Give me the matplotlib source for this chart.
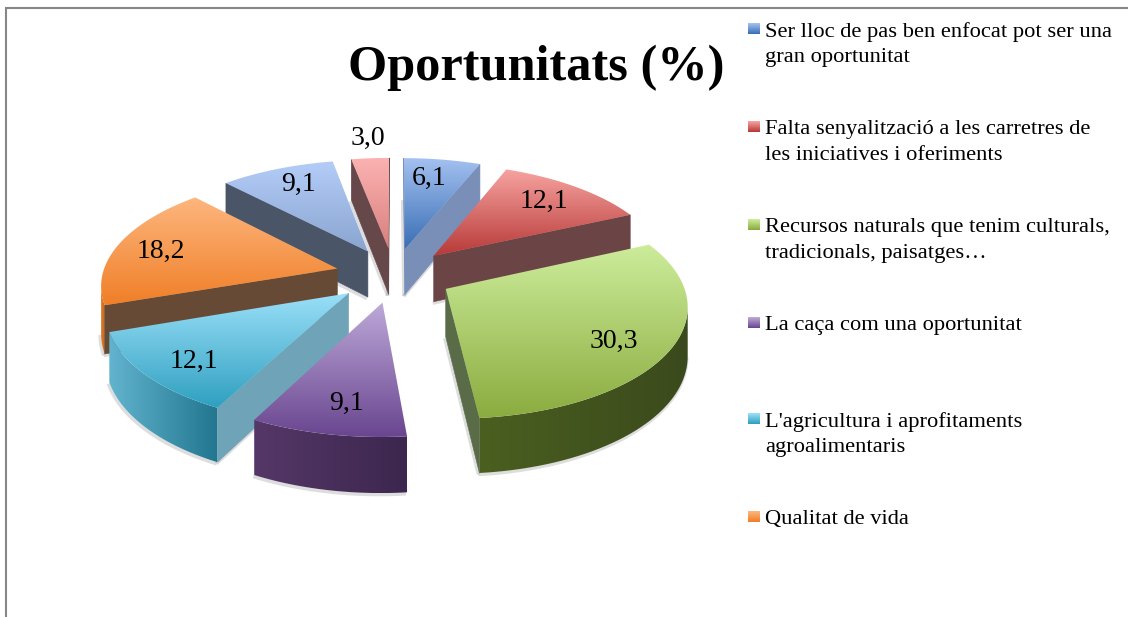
# Oportunitats (%) - pastis 3D separat
import numpy as np
import matplotlib
matplotlib.use("Agg")
import matplotlib.pyplot as plt
from matplotlib.colors import to_rgb
from matplotlib.patches import Polygon

values = [6.1, 12.1, 30.3, 9.1, 12.1, 18.2, 9.1, 3.0]
legend_labels = [
    "Ser lloc de pas ben enfocat pot ser una\ngran oportunitat",
    "Falta senyalització a les carretres de\nles iniciatives i oferiments",
    "Recursos naturals que tenim culturals,\ntradicionals, paisatges…",
    "La caça com una oportunitat",
    "L'agricultura i aprofitaments\nagroalimentaris",
    "Qualitat de vida",
]
legend_y = [42, 140, 238, 323, 432, 517]

# colors: top light, top dark, rim left, rim right, cut face
top_light = ["#a3c0f0", "#f6a3a0", "#cdec9b", "#bda9d8", "#9adff8", "#fdb67e", "#b3cdf8", "#fbb2b1"]
top_dark = ["#3a6fb5", "#b83a38", "#8bac3f", "#6a4690", "#2fa0c0", "#f07f28", "#8aa5d0", "#d97f7d"]
rim_left = ["#5f7ea8", "#6b4545", "#4a5f20", "#553768", "#62b4ce", "#e07a28", "#4a5568", "#66484a"]
rim_right = ["#3f5f88", "#6b4545", "#3b4a1c", "#3c274e", "#227690", "#c06a20", "#4a5568", "#66484a"]
cut_color = ["#7a8fb8", "#6b4545", "#5a6b48", "#553768", "#6fa3b8", "#664a35", "#4a5568", "#66484a"]

label_xy = [(429, 178), (544, 201), (614, 341), (347, 403), (194, 361), (161, 251), (299, 184), (368, 138)]
draw_order = [7, 0, 6, 1, 5, 2, 4, 3]

# projection du pastis
cx, cy = 394, 275
R, V, k = 235, 109, 0.13
explode = 0.25
depth = 47


def project(X, Y):
    f = 1 + k * Y
    return cx + R * X / f, cy - V * Y / f, depth / f


def mix(c1, c2, t):
    a, b = np.array(to_rgb(c1)), np.array(to_rgb(c2))
    return tuple(a + (b - a) * t)


fig = plt.figure(figsize=(11.28, 6.17), dpi=100)
ax = fig.add_axes([0, 0, 1, 1])
ax.set_xlim(0, 1128)
ax.set_ylim(617, 0)
ax.axis("off")

serif = "Liberation Serif"


def gradient_poly(pts, c1, c2, z, horizontal=False):
    pts = np.array(pts)
    x0, x1 = pts[:, 0].min(), pts[:, 0].max()
    y0, y1 = pts[:, 1].min(), pts[:, 1].max()
    t = np.linspace(0, 1, 64)
    if horizontal:
        img = np.array([[mix(c1, c2, v) for v in t]])
    else:
        img = np.array([[mix(c1, c2, v)] for v in t])
    im = ax.imshow(img, extent=(x0, x1, y1, y0), aspect="auto", zorder=z, interpolation="bilinear")
    patch = Polygon(pts, closed=True, transform=ax.transData, fc="none", ec="none")
    ax.add_patch(patch)
    im.set_clip_path(patch)


# angles a partir des valeurs
edges = np.cumsum([0] + values) / sum(values) * 2 * np.pi

z = 2
for i in draw_order:
    a0, a1 = edges[i], edges[i + 1]
    mid = (a0 + a1) / 2
    ox, oy = explode * np.sin(mid), explode * np.cos(mid)
    th = np.linspace(a0, a1, 60)
    px, py, pd = project(ox + np.sin(th), oy + np.cos(th))
    ax_, ay_, ad_ = project(ox, oy)
    # contour du dessus: sommet, arc, retour au sommet
    xs = np.r_[ax_, px, ax_]
    ys = np.r_[ay_, py, ay_]
    ds = np.r_[ad_, pd, ad_]

    # ombre sous les faces visibles
    for s in range(len(xs) - 1):
        if xs[s + 1] < xs[s]:
            ax.plot([xs[s] - 1, xs[s + 1] - 1], [ys[s] + ds[s] + 1.5, ys[s + 1] + ds[s + 1] + 1.5],
                    color="#666666", alpha=0.22, lw=2.5, zorder=z, solid_capstyle="butt")
    z += 1

    # bord courbe: une seule forme avec degrade gauche-droite
    visible = np.where(np.diff(px) < 0)[0]
    if len(visible) > 0:
        keep = np.r_[visible, visible[-1] + 1]
        strip = np.r_[np.c_[px[keep], py[keep]], np.c_[px[keep], py[keep] + pd[keep]][::-1]]
        gradient_poly(strip, rim_left[i], rim_right[i], z, horizontal=True)
    z += 1

    # faces coupees
    for s in [0, len(xs) - 2]:
        if xs[s + 1] < xs[s]:
            quad = [(xs[s], ys[s]), (xs[s + 1], ys[s + 1]),
                    (xs[s + 1], ys[s + 1] + ds[s + 1]), (xs[s], ys[s] + ds[s])]
            ax.add_patch(Polygon(quad, closed=True, fc=cut_color[i], ec=cut_color[i], lw=0.4, zorder=z))
    z += 1

    gradient_poly(np.c_[xs, ys], top_light[i], top_dark[i], z)
    z += 1

for (x, y), v in zip(label_xy, values):
    ax.text(x, y, f"{v:.1f}".replace(".", ","), family=serif, fontsize=20, color="black",
            ha="center", va="center", zorder=100)

ax.text(536, 68, "Oportunitats (%)", family=serif, fontsize=36.3, fontweight="bold",
        ha="center", va="center", color="black", zorder=100)

# legende
for i, (lab, y) in enumerate(zip(legend_labels, legend_y)):
    n_lines = lab.count("\n") + 1
    y_mark = y - 13 if n_lines == 2 else y
    t = np.linspace(0, 1, 16)
    img = np.array([[mix(top_light[i], top_dark[i], v)] for v in t])
    ax.imshow(img, extent=(748, 760, y_mark + 5.5, y_mark - 5.5), aspect="auto", zorder=100)
    ax.text(765, y + 2.5, lab, family=serif, fontsize=16.2, color="black", ha="left", va="center",
            linespacing=1.43, zorder=100)

# cadre du graphique
ax.plot([5.5, 5.5, 1128], [617, 8, 8], color="#868686", lw=1.5, zorder=1, solid_joinstyle="miter")

ax.set_xlim(0, 1128)
ax.set_ylim(617, 0)
fig.savefig("out.png", dpi=100, facecolor="white")
